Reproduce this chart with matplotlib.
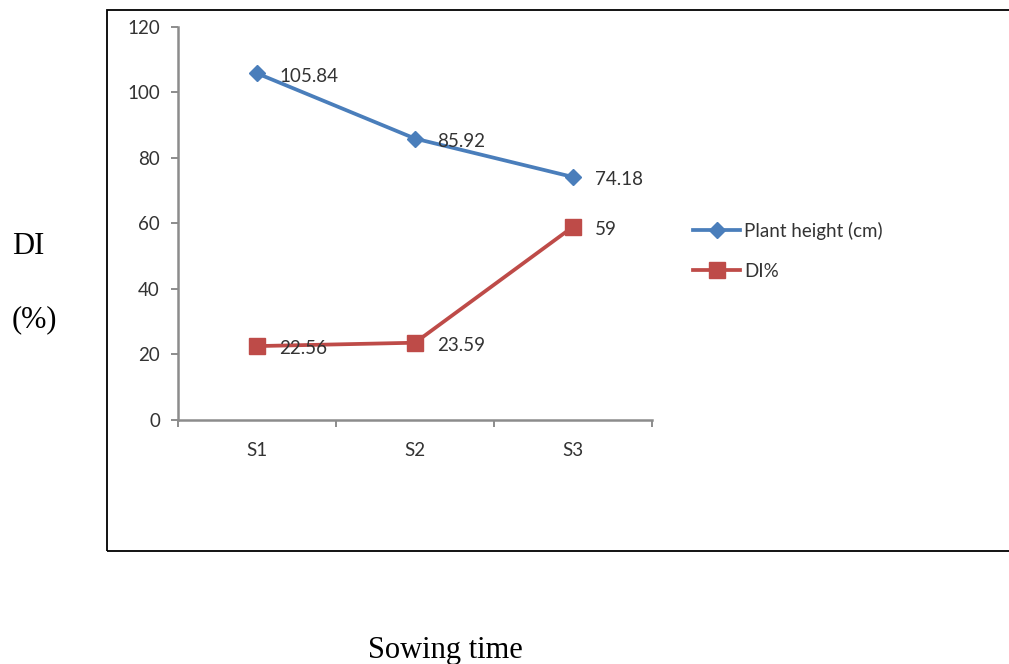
import matplotlib.pyplot as plt
from matplotlib.patches import Rectangle

# data
sowing = ['S1', 'S2', 'S3']
plant_height = [105.84, 85.92, 74.18]
di_pct = [22.56, 23.59, 59]
yticks = [0, 20, 40, 60, 80, 100, 120]

blue = '#4A7EBB'
red = '#BE4B48'
grey = '#8C8C8C'
txt = '#333333'
tfont = 'Lato'
fs = 13.5

fig = plt.figure(figsize=(10.09, 6.64), dpi=100)

# outer frame around the excel chart
fig.patches.append(Rectangle((0.106, 0.170), 0.95, 0.815, transform=fig.transFigure,
                             fill=False, edgecolor='black', linewidth=1.3, clip_on=False))

ax = fig.add_axes([0.1764, 0.3675, 0.4698, 0.5919])
x = list(range(len(sowing)))

ax.plot(x, plant_height, color=blue, linewidth=2.7, marker='D', markersize=8.5,
        label='Plant height (cm)')
ax.plot(x, di_pct, color=red, linewidth=2.7, marker='s', markersize=11.5,
        label='DI%')

for xi, v in zip(x, plant_height):
    ax.annotate(f'{v:g}', (xi, v), xytext=(16, -2), textcoords='offset points',
                va='center', ha='left', fontsize=fs, color=txt, family=tfont)
for xi, v in zip(x, di_pct):
    ax.annotate(f'{v:g}', (xi, v), xytext=(16, -2), textcoords='offset points',
                va='center', ha='left', fontsize=fs, color=txt, family=tfont)

ax.set_xlim(-0.5, 2.5)
ax.set_ylim(0, 120)
ax.set_yticks(yticks)
ax.set_xticks(x)
ax.set_xticklabels(sowing)
ax.set_xticks([-0.5, 0.5, 1.5, 2.5], minor=True)
ax.tick_params(axis='x', which='major', length=0, pad=16)
ax.tick_params(axis='x', which='minor', length=5, color=grey, width=1.4)
ax.tick_params(axis='y', length=5, color=grey, width=1.4, pad=8)
for lab in ax.get_xticklabels() + ax.get_yticklabels():
    lab.set_fontsize(fs)
    lab.set_color(txt)
    lab.set_family(tfont)

for s in ['top', 'right']:
    ax.spines[s].set_visible(False)
for s in ['left', 'bottom']:
    ax.spines[s].set_color(grey)
    ax.spines[s].set_linewidth(1.8)

leg = ax.legend(loc='upper left', bbox_to_anchor=(0.687, 0.666),
                bbox_transform=fig.transFigure, frameon=False,
                borderpad=0, borderaxespad=0,
                handlelength=2.5, handletextpad=0.2, labelspacing=1.22,
                prop={'family': tfont, 'size': fs})
for t in leg.get_texts():
    t.set_color(txt)

fig.text(0.012, 0.629, 'DI', fontsize=22, family='Liberation Serif', va='center')
fig.text(0.012, 0.518, '(%)', fontsize=22, family='Liberation Serif', va='center')
fig.text(0.365, 0.009, 'Sowing time', fontsize=22, family='Liberation Serif',
         va='baseline')

fig.savefig('out.png', dpi=100)
